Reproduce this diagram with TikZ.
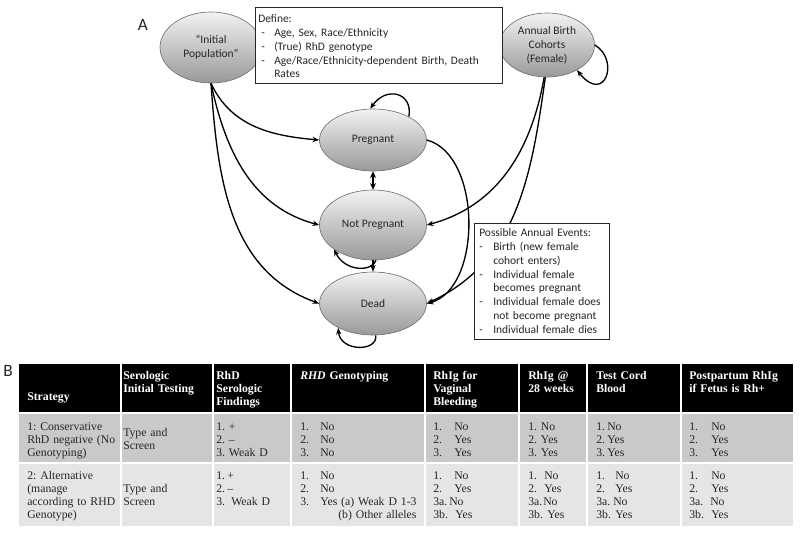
\documentclass[tikz,border=0pt]{standalone}
\usepackage{fontspec}
\setmainfont{Liberation Serif}
\newfontfamily\diagfam{Carlito}
\usetikzlibrary{shapes.geometric,arrows.meta}
\newdimen\pxu \pxu=0.75pt
\newcommand\nit[3]{\makebox[#1\pxu][l]{#2}#3}
\newcommand\diagfnt{\diagfam\frenchspacing\fontsize{8.6}{10.4}\selectfont}
\newcommand\headfnt{\frenchspacing\bfseries\fontsize{8.8}{9.8}\selectfont}
\newcommand\bodyfnt{\frenchspacing\fontsize{8.8}{9.8}\selectfont}
\begin{document}
\begin{tikzpicture}[x=0.75pt,y=-0.75pt,
  state/.style={ellipse,draw=black!55,line width=0.5pt,top color=black!5,bottom color=black!40,inner sep=0pt,font=\diagfnt,text=black!85,align=center},
  conn/.style={line width=1pt,-{Stealth[length=5pt,width=4pt]}},
  infobox/.style={draw=black!85,fill=white,line width=0.7pt,inner sep=0pt,anchor=north west},
  infotext/.style={anchor=base west,inner sep=0pt,align=left,font=\diagfnt,text=black!85},
  th/.style={anchor=base west,inner sep=0pt,align=left,font=\headfnt,text=white},
  td/.style={anchor=base west,inner sep=0pt,align=left,font=\bodyfnt,text=black!85},
  panel/.style={font=\diagfam\fontsize{13}{15}\selectfont,text=black!85,inner sep=0pt}
]
\useasboundingbox (0,0) rectangle (800,533);

% panel labels
\node[panel] (labA) at (143,25) {A};
\node[panel] (labB) at (8,371) {B};

% states
\node[state,minimum width=102\pxu,minimum height=71\pxu] (ip) at (211,47.5) {“Initial\\Population”};
\node[state,minimum width=95\pxu,minimum height=64\pxu] (ab) at (547,45) {Annual Birth\\Cohorts\\(Female)};
\node[state,minimum width=107\pxu,minimum height=62\pxu] (preg) at (373,140) {Pregnant};
\node[state,minimum width=107\pxu,minimum height=70\pxu] (np) at (373,225) {Not Pregnant};
\node[state,minimum width=107\pxu,minimum height=63\pxu] (dead) at (373,303.5) {Dead};

% connectors
\draw[conn] (ip.south) to[out=-65,in=175] (preg.west);
\draw[conn] (ip.south) to[out=-78,in=165] (np.west);
\draw[conn] (ip.south) to[out=-86,in=160] (dead.west);
\draw[conn] (preg.east) to[out=-15,in=15,looseness=0.9] (dead.east);
\draw[conn] (ab.-95) to[out=-100,in=15] (np.east);
\draw[conn] (ab.-93) to[out=-98,in=25] (dead.east);
\draw[conn] (preg.33) .. controls (413,92) and (386,86) .. (preg.95);
\draw[conn] (ab.east) .. controls (620,60) and (605,105) .. (ab.-40);
\draw[conn] (np.-85) .. controls (372,272) and (345,272) .. (np.-148);
\draw[conn] (dead.-85) .. controls (378,352) and (340,352) .. (dead.-145);
\draw[conn] (np.south) -- (dead.north);
\draw[line width=1.2pt,{Stealth[length=5pt,width=4.5pt]}-{Stealth[length=5pt,width=4.5pt]}] (preg.south) -- (np.north);

% info boxes
\node[infobox,minimum width=247\pxu,minimum height=76\pxu] (defbox) at (255,7) {};
\node[infotext,text width=240\pxu] (deftext) at (258,22.5)
  {Define:\\
   \nit{16}{\hspace*{3\pxu}-}{Age, Sex, Race/Ethnicity}\\
   \nit{16}{\hspace*{3\pxu}-}{(True) RhD genotype}\\
   \nit{16}{\hspace*{3\pxu}-}{Age/Race/Ethnicity-dependent Birth, Death}\\
   \nit{16}{}{Rates}};
\node[infobox,minimum width=135\pxu,minimum height=116\pxu] (evbox) at (474,223) {};
\node[infotext,text width=130\pxu] (evtext) at (479,236.5)
  {Possible Annual Events:\\
   \nit{14}{-}{Birth (new female}\\
   \nit{14}{}{cohort enters)}\\
   \nit{14}{-}{Individual female}\\
   \nit{14}{}{becomes pregnant}\\
   \nit{14}{-}{Individual female does}\\
   \nit{14}{}{not become pregnant}\\
   \nit{14}{-}{Individual female dies}};

% table backgrounds
\fill[black] (19,364) rectangle (793,412);
\fill[black!21] (19,414) rectangle (793,462);
\fill[black!10] (19,464) rectangle (793,526);
\foreach \x in {121,213,291,425,519,587,681}
  \draw[white,line width=1.5pt] (\x,364) -- (\x,526);

% header
\node[th,text width=90\pxu] (h1) at (27,400) {Strategy};
\node[th,text width=88\pxu] (h2) at (123,379.5) {Serologic\\Initial Testing};
\node[th,text width=72\pxu] (h3) at (216,379.5) {RhD\\Serologic\\Findings};
\node[th,text width=120\pxu] (h4) at (300,379.5) {\textit{RHD} Genotyping};
\node[th,text width=88\pxu] (h5) at (433,379.5) {RhIg for\\Vaginal\\Bleeding};
\node[th,text width=62\pxu] (h6) at (528,379.5) {RhIg @\\28 weeks};
\node[th,text width=88\pxu] (h7) at (596,379.5) {Test Cord\\Blood};
\node[th,text width=104\pxu] (h8) at (689,379.5) {Postpartum RhIg\\if Fetus is Rh+};

% row 1
\node[td,text width=92\pxu] (r1c1) at (27,430.5) {1: Conservative\\RhD negative (No\\Genotyping)};
\node[td,text width=88\pxu] (r1c2) at (123,436.5) {Type and\\Screen};
\node[td,text width=72\pxu] (r1c3) at (216,430.5) {1. +\\2. –\\3. Weak D};
\node[td,text width=120\pxu] (r1c4) at (300,430.5) {\nit{20}{1.}{No}\\\nit{20}{2.}{No}\\\nit{20}{3.}{No}};
\node[td,text width=88\pxu] (r1c5) at (433,430.5) {\nit{21}{1.}{No}\\\nit{21}{2.}{Yes}\\\nit{21}{3.}{Yes}};
\node[td,text width=62\pxu] (r1c6) at (528,430.5) {1. No\\2. Yes\\3. Yes};
\node[td,text width=88\pxu] (r1c7) at (596,430.5) {\nit{11}{1.}{No}\\\nit{11}{2.}{Yes}\\\nit{11}{3.}{Yes}};
\node[td,text width=104\pxu] (r1c8) at (689,430.5) {\nit{22}{1.}{No}\\\nit{22}{2.}{Yes}\\\nit{22}{3.}{Yes}};

% row 2
\node[td,text width=92\pxu] (r2c1) at (27,479.5) {2: Alternative\\(manage\\according to RHD\\Genotype)};
\node[td,text width=88\pxu] (r2c2) at (123,492.5) {Type and\\Screen};
\node[td,text width=72\pxu] (r2c3) at (216,479.5) {\nit{11}{1.}{+}\\\nit{11}{2.}{–}\\\nit{15}{3.}{Weak D}};
\node[td,text width=124\pxu] (r2c4) at (300,479.5) {\nit{20}{1.}{No}\\\nit{20}{2.}{No}\\\nit{20}{3.}{Yes (a) Weak D 1-3}\\\hspace*{38\pxu}(b) Other alleles};
\node[td,text width=88\pxu] (r2c5) at (433,479.5) {\nit{21}{1.}{No}\\\nit{21}{2.}{Yes}\\\nit{16}{3a.}{No}\\\nit{22}{3b.}{Yes}};
\node[td,text width=62\pxu] (r2c6) at (528,479.5) {\nit{16}{1.}{No}\\\nit{16}{2.}{Yes}\\\nit{15}{3a.}{No}\\\nit{19}{3b.}{Yes}};
\node[td,text width=88\pxu] (r2c7) at (596,479.5) {\nit{19}{1.}{No}\\\nit{19}{2.}{Yes}\\\nit{17}{3a.}{No}\\\nit{19}{3b.}{Yes}};
\node[td,text width=104\pxu] (r2c8) at (689,479.5) {\nit{22}{1.}{No}\\\nit{22}{2.}{Yes}\\\nit{21}{3a.}{No}\\\nit{22}{3b.}{Yes}};
\end{tikzpicture}
\end{document}
